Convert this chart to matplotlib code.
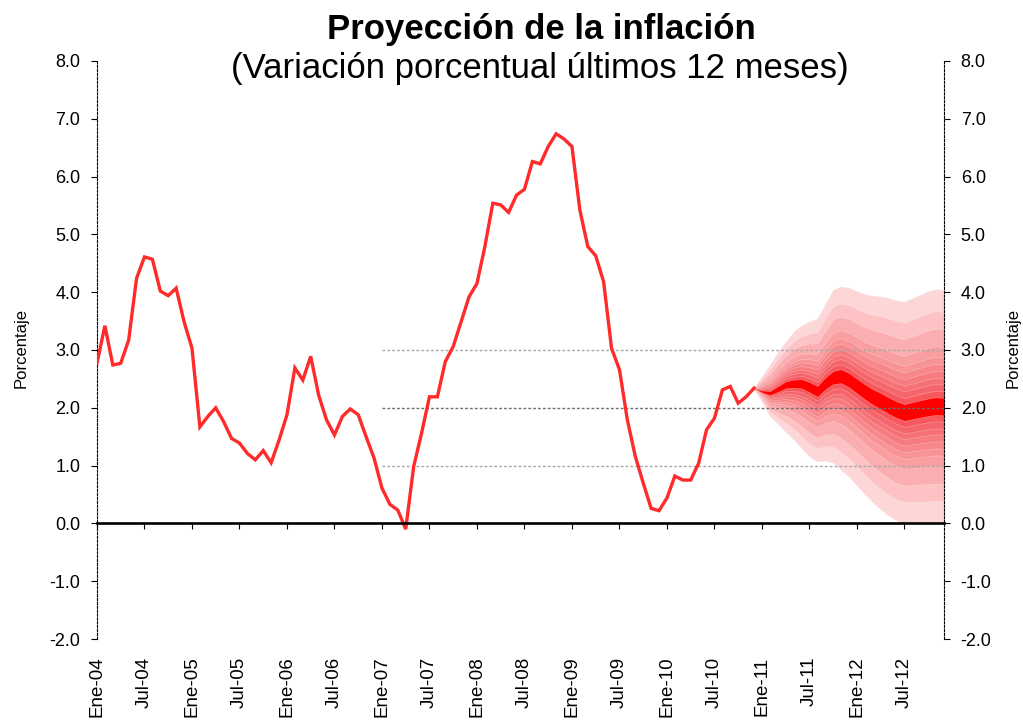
import numpy as np
import matplotlib
matplotlib.use('Agg')
import matplotlib.pyplot as plt

plt.rcParams['font.family'] = ['Liberation Sans', 'DejaVu Sans']

# observed inflation, monthly from Ene-04 (index 0) to Dic-10 (index 83)
inflation = [2.77, 3.42, 2.74, 2.77, 3.17, 4.24, 4.61, 4.57, 4.02, 3.94, 4.07, 3.49,
             3.03, 1.67, 1.85, 2.00, 1.76, 1.47, 1.39, 1.21, 1.10, 1.26, 1.05, 1.44,
             1.88, 2.69, 2.48, 2.89, 2.22, 1.79, 1.53, 1.85, 1.98, 1.88, 1.50, 1.13,
             0.61, 0.33, 0.23, -0.10, 0.98, 1.56, 2.19, 2.19, 2.80, 3.06, 3.49, 3.92,
             4.15, 4.79, 5.54, 5.51, 5.38, 5.68, 5.78, 6.26, 6.22, 6.52, 6.74, 6.65,
             6.52, 5.42, 4.79, 4.63, 4.18, 3.03, 2.66, 1.79, 1.16, 0.70, 0.26, 0.22,
             0.44, 0.82, 0.75, 0.75, 1.04, 1.62, 1.82, 2.31, 2.37, 2.08, 2.19, 2.34]

# fan chart: central path and outer bounds, index 83 .. 107
fan_center = [2.34, 2.28, 2.25, 2.32, 2.40, 2.42, 2.42, 2.36, 2.28, 2.42, 2.52, 2.55, 2.48,
              2.38, 2.28, 2.19, 2.12, 2.04, 1.97, 1.92, 1.95, 1.98, 2.01, 2.03, 2.02]
fan_upper = [2.36, 2.55, 2.75, 2.97, 3.15, 3.32, 3.43, 3.50, 3.55, 3.80, 4.05, 4.10, 4.08,
             4.02, 3.97, 3.94, 3.93, 3.90, 3.86, 3.84, 3.90, 3.96, 4.02, 4.06, 4.04]
fan_lower = [2.32, 2.10, 1.85, 1.72, 1.58, 1.45, 1.30, 1.15, 1.07, 1.08, 1.05, 0.92, 0.80,
             0.65, 0.50, 0.36, 0.24, 0.13, 0.05, 0.00, 0.00, 0.00, 0.00, 0.00, 0.00]
fan_start = 83
# share of the outer half-width covered by each band, outer to inner
band_fracs = [1.0, 0.81, 0.66, 0.51, 0.42, 0.36, 0.30, 0.24, 0.19, 0.13, 0.075]
band_colors = ['#FDD6D7', '#FCC2C4', '#FBAEB1', '#F99FA2', '#F89396', '#F7878B',
               '#F67C80', '#F57176', '#F4666B', '#F5585D', '#FF0000']

target_levels = [1.0, 2.0, 3.0]
target_start = 36
n_months = 108

tick_labels = ['Ene-04', 'Jul-04', 'Ene-05', 'Jul-05', 'Ene-06', 'Jul-06', 'Ene-07', 'Jul-07',
               'Ene-08', 'Jul-08', 'Ene-09', 'Jul-09', 'Ene-10', 'Jul-10', 'Ene-11', 'Jul-11',
               'Ene-12', 'Jul-12']

fig = plt.figure(figsize=(10.23, 7.25), dpi=100)
ax = fig.add_axes([0.0948, 0.1186, 0.8280, 0.7973])

# spines first (moving the spine resets the ticks)
ax.spines['top'].set_visible(False)
ax.spines['bottom'].set_position(('data', 0))
ax.spines['bottom'].set_linewidth(1.9)
ax.spines['bottom'].set_zorder(4)
for side in ['left', 'right']:
    ax.spines[side].set_linestyle((0, (2, 1.5)))
    ax.spines[side].set_linewidth(0.8)

# fan
xf = np.arange(fan_start, fan_start + len(fan_center))
c = np.array(fan_center)
up = np.array(fan_upper)
lo = np.array(fan_lower)
for frac, col in zip(band_fracs, band_colors):
    ax.fill_between(xf, c - frac * (c - lo), c + frac * (up - c), facecolor=col,
                    edgecolor='#ffffff60', linewidth=0.4, zorder=1)

# target band lines
for lev in target_levels:
    ax.hlines(lev, target_start, n_months - 1, colors='#6e6e6e' if lev == 2.0 else '#a8a8a8',
              linestyles=(0, (2, 1.5)), linewidth=1.0, zorder=2)

ax.plot(np.arange(len(inflation)), inflation, color='#FF2A2A', linewidth=2.4,
        solid_joinstyle='miter', zorder=3)

ax.set_xlim(0, n_months - 1)
ax.set_ylim(-2, 8)

yt = np.arange(-2, 9, 1)
ax.set_yticks(yt)
ax.set_yticklabels([f'{v:.1f}' for v in yt], fontsize=13)
ax.tick_params(axis='y', direction='out', length=4, width=0.8, pad=8,
               left=True, right=True, labelleft=True, labelright=True)

ax.set_xticks(np.arange(0, n_months - 1, 6))
ax.set_xticklabels(tick_labels, fontsize=13.5)
ax.tick_params(axis='x', direction='out', length=4, width=0.8, pad=92, labelrotation=90)

fig.text(0.529, 0.946, 'Proyección de la inflación', ha='center', va='baseline',
         fontsize=25, fontweight='bold')
fig.text(0.528, 0.892, '(Variación porcentual últimos 12 meses)', ha='center', va='baseline',
         fontsize=25)

fig.text(0.0205, 0.52, 'Porcentaje', rotation=90, ha='center', va='center', fontsize=12)
fig.text(0.990, 0.52, 'Porcentaje', rotation=90, ha='center', va='center', fontsize=12)

fig.savefig('out.png', dpi=100)
